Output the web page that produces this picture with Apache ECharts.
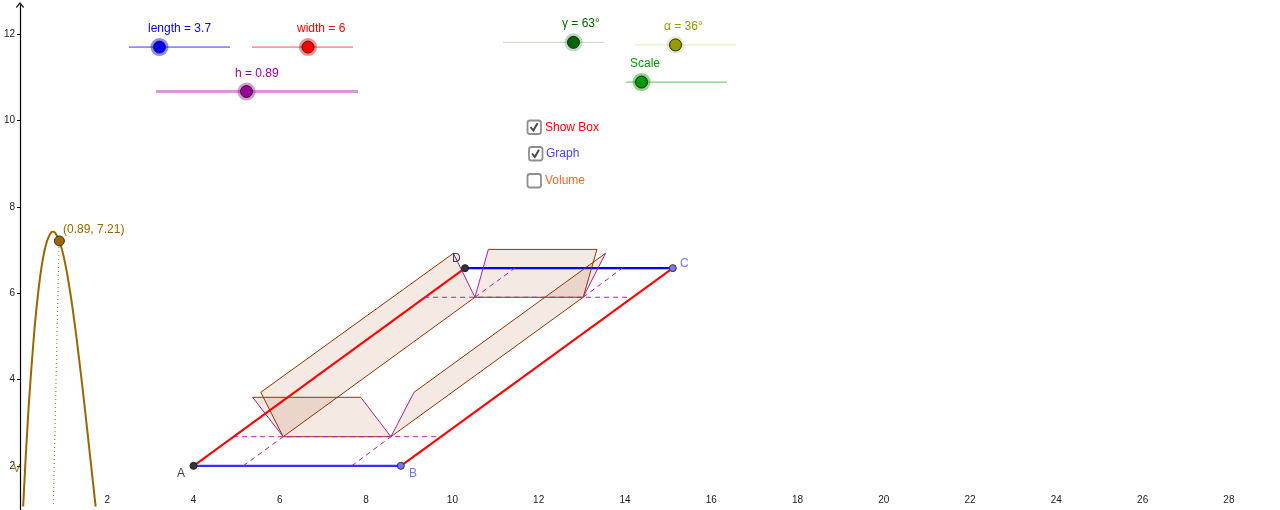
<!DOCTYPE html>
<html><head><meta charset="utf-8">
<style>html,body{margin:0;padding:0;background:#fff}#c{width:1280px;height:510px}</style>
<script src="https://cdn.jsdelivr.net/npm/echarts@6/dist/echarts.min.js"></script>
</head><body><div id="c"></div>
<script>
// ---- tick labels
const xTicks = [2,4,6,8,10,12,14,16,18,20,22,24,26,28];
const yTicks = [2,4,6,8,10,12];
// ---- parallelogram corners
const A = [4.0,2.0], B = [8.805,2.0], C = [15.109,6.58], D = [10.293,6.58];
// ---- folded box faces
const faceFront = [[6.077,2.675],[8.575,2.675],[7.876,3.588],[5.368,3.588]];
const faceLeft  = [[6.077,2.675],[5.558,3.704],[10.024,6.924],[10.523,5.905]];
const faceBack  = [[10.523,5.905],[13.031,5.905],[13.351,7.014],[10.833,7.014]];
const faceRight = [[8.575,2.675],[9.11,3.704],[13.55,6.924],[13.031,5.905]];
// ---- box edges
const brownEdges = [
  [faceFront[3],faceFront[2]], [faceFront[0],faceFront[1]],
  [faceLeft[0],faceLeft[1]], [faceLeft[1],faceLeft[2]], [faceLeft[0],faceLeft[3]],
  [faceBack[0],faceBack[1]], [faceBack[1],faceBack[2]], [faceBack[2],faceBack[3]],
  [faceRight[0],faceRight[3]], [faceRight[1],faceRight[2]]
];
const purpleEdges = [
  [faceFront[0],faceFront[3]], [faceFront[1],faceFront[2]],
  [faceLeft[2],faceLeft[3]], [faceBack[0],faceBack[3]],
  [faceRight[0],faceRight[1]], [faceRight[2],faceRight[3]]
];
const dashedEdges = [
  [[4.918,2.675],[9.674,2.675]], [[9.344,5.905],[14.08,5.905]],
  [[5.153,2.0],[6.077,2.675]], [[7.666,2.0],[8.575,2.675]],
  [[10.523,5.905],[11.453,6.583]], [[13.031,5.905],[13.94,6.583]]
];
// ---- volume curve V(h)
const curveH = [0.05,0.1,0.15,0.2,0.3,0.4,0.5,0.6,0.7,0.75,0.8,0.9,1.0,1.1,1.2,1.3,1.4,1.5,1.6,1.7,1.73];
const curveV = [1.06,2.03,2.91,3.70,5.02,6.03,6.75,7.20,7.41,7.425,7.39,7.18,6.80,6.27,5.62,4.86,4.03,3.15,2.24,1.33,1.055];
const hPoint = [0.89,7.21];
const hDrop = [[0.881,7.16],[0.749,1.05]];
// ---- sliders: [from, to, knob, level]
const sliderLength = [2.504,4.845,3.21,11.70];
const sliderWidth  = [5.355,7.696,6.653,11.70];
const sliderH      = [3.129,7.812,5.227,10.67];
const sliderGamma  = [11.173,13.511,12.807,11.81];
const sliderAlpha  = [14.233,16.574,15.172,11.75];
const sliderScale  = [14.024,16.365,14.384,10.89];

const FONT = '12px "Liberation Sans", Arial, sans-serif';
function line(data, color, width, type, extra){
  return Object.assign({type:'line',data,showSymbol:false,symbol:'none',silent:true,clip:false,z:3,
    lineStyle:{color,width,type:type||'solid',cap:'butt'}},extra||{});
}
function dots(points, color, size, border, borderW, opacity, z){
  return {type:'scatter',data:points,symbol:'circle',symbolSize:size,silent:true,clip:false,z:z||6,
    itemStyle:{color,borderColor:border||color,borderWidth:borderW||0,opacity:opacity==null?1:opacity}};
}
function slider(s,color,trackW,trackOp,haloOp){
  return [
    line([[s[0],s[3]],[s[1],s[3]]],color,trackW,'solid',{lineStyle:{color,width:trackW,opacity:trackOp},z:4}),
    dots([[s[2],s[3]]],color,18,null,0,haloOp,5),
    dots([[s[2],s[3]]],color,12,'#222',1,1,6)
  ];
}
const faces = [faceFront,faceLeft,faceBack,faceRight];
const series = [
  {type:'custom',silent:true,clip:false,z:2,data:faces.map((f,i)=>[i]),
   renderItem(p,api){
     const f = faces[api.value(0)];
     return {type:'polygon',shape:{points:f.map(q=>api.coord(q))},
       style:{fill:'rgba(153,51,0,0.11)',stroke:null}};
   }},
  line([A,B],'#3333ff',2.3), line([D,C],'#0000ff',2.3),
  line([A,D],'#ff0000',2), line([B,C],'#ff0000',2),
  ...brownEdges.map(e=>line(e,'#993300',1)),
  ...purpleEdges.map(e=>line(e,'#a020a0',1)),
  ...dashedEdges.map(e=>line(e,'#b020b0',1,[5,4])),
  line(curveH.map((h,i)=>[h,curveV[i]]),'#996600',2,'solid',{smooth:0.3}),
  line(hDrop,'#b08a40',1.2,[1,3]),
  dots([A,D],'#333333',7,'#222',1),
  dots([B,C],'#7777ee',7,'#333',1),
  dots([hPoint],'#996600',10,'#333',1),
  ...slider(sliderLength,'#0000ff',1.6,0.45,0.45),
  ...slider(sliderWidth,'#ff0000',1.6,0.4,0.45),
  ...slider(sliderH,'#990099',3,0.4,0.4),
  ...slider(sliderGamma,'#006600',1.2,0.2,0.25),
  ...slider(sliderAlpha,'#999900',1.2,0.2,0.2),
  ...slider(sliderScale,'#009900',1.2,0.5,0.45)
];
const txt = (x,y,text,fill,align) => ({type:'text',z:20,style:{x,y,text,fill,font:FONT,textAlign:align||'left',textVerticalAlign:'middle'}});
const box = (x,y,checked) => {
  const out = [{type:'rect',z:20,shape:{x,y,width:13.5,height:13.5,r:2.5},style:{fill:'#fff',stroke:'#8f8f8f',lineWidth:1.8}}];
  if(checked) out.push({type:'polyline',z:21,shape:{points:[[x+3,y+6.5],[x+5.8,y+10],[x+10,y+2.8]]},style:{fill:null,stroke:'#4a4a4a',lineWidth:2}});
  return out;
};
const graphic = [
  txt(148,29,'length = 3.7','#0000ff'),
  txt(297,29,'width = 6','#ff0000'),
  txt(235,73.5,'h = 0.89','#990099'),
  txt(562,24,'γ = 63°','#006600'),
  txt(664,27,'α = 36°','#999900'),
  txt(630,64,'Scale','#009900'),
  ...box(527.5,120.5,true), txt(545,127.5,'Show Box','#ff0000'),
  ...box(529,147,true), txt(546,153.5,'Graph','#4444ff'),
  ...box(527.5,174,false), txt(545,180.5,'Volume','#ff6622'),
  txt(63,230,'(0.89, 7.21)','#996600'),
  txt(177,474,'A','#444444'),
  txt(409,473.5,'B','#7777ee'),
  txt(680,264,'C','#7777ee'),
  txt(452,259,'D','#444444'),
  {type:'text',z:20,style:{x:13.5,y:469,text:'V',fill:'#996600',font:'10px "Liberation Sans", Arial, sans-serif',textVerticalAlign:'middle'}}
];
const chart = echarts.init(document.getElementById('c'),null,{renderer:'canvas'});
chart.setOption({
  animation:false,
  backgroundColor:'#fff',
  grid:{left:21,top:5,right:-35.2,bottom:-42.2,containLabel:false,outerBoundsMode:'none'},
  xAxis:{type:'value',min:0,max:30,
    axisLine:{show:false},axisTick:{show:false},splitLine:{show:false},
    axisLabel:{inside:true,margin:47,color:'#222',fontSize:10,fontFamily:'"Liberation Sans", Arial, sans-serif',customValues:xTicks}},
  yAxis:{type:'value',min:0,max:12.675,offset:1,
    axisLine:{show:true,onZero:false,lineStyle:{color:'#000',width:1.2},symbol:['none','path://M4 0 L8 5 L7.3 6 L4 2 L0.7 6 L0 5Z'],symbolSize:[8,6]},
    axisTick:{show:true,length:3,lineStyle:{color:'#000',width:1},customValues:yTicks},
    splitLine:{show:false},
    axisLabel:{margin:5,color:'#222',fontSize:10,fontFamily:'"Liberation Sans", Arial, sans-serif',customValues:yTicks}},
  graphic,
  series
});
</script></body></html>
